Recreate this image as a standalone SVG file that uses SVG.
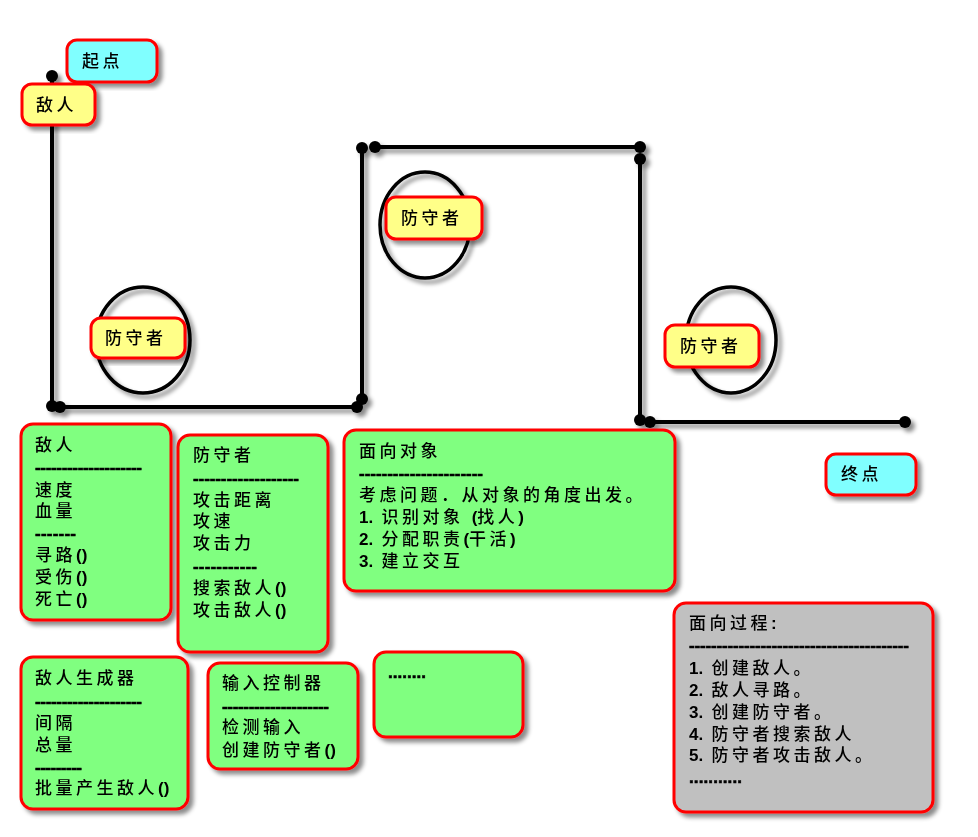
<svg xmlns="http://www.w3.org/2000/svg" width="978" height="837" viewBox="0 0 978 837">
<defs>
<filter id="sh" x="-20%" y="-20%" width="140%" height="140%">
<feDropShadow dx="4" dy="4" stdDeviation="2" flood-color="#000" flood-opacity="0.45"/>
</filter>
<style>
.ln{stroke:#000;stroke-width:4;fill:none;stroke-linecap:butt}
.dot{fill:#000}
.el{fill:none;stroke:#000;stroke-width:3.5}
.box{stroke:#ff0000;stroke-width:3}
.y{fill:#ffff88}
.c{fill:#80ffff}
.g{fill:#80ff80}
.gr{fill:#c0c0c0}
text{font-family:"Liberation Sans","Noto Sans CJK SC",sans-serif;font-size:17px;font-weight:500;fill:#000;letter-spacing:3.5px}
.b{font-weight:bold;letter-spacing:0}
.d{font-weight:bold;letter-spacing:0;stroke:#000;stroke-width:0.6}
</style>
</defs>
<rect width="978" height="837" fill="#fff"/>
<g id="connectors" filter="url(#sh)">
<line class="ln" x1="52" y1="76" x2="52" y2="406"/>
<circle class="dot" cx="52" cy="76" r="6"/><circle class="dot" cx="52" cy="406" r="6"/>
<line class="ln" x1="60" y1="407" x2="357" y2="407"/>
<circle class="dot" cx="60" cy="407" r="6"/><circle class="dot" cx="357" cy="407" r="6"/>
<line class="ln" x1="362" y1="148" x2="362" y2="399"/>
<circle class="dot" cx="362" cy="148" r="6"/><circle class="dot" cx="362" cy="399" r="6"/>
<line class="ln" x1="375" y1="147" x2="640" y2="147"/>
<circle class="dot" cx="375" cy="147" r="6"/><circle class="dot" cx="640" cy="147" r="6"/>
<line class="ln" x1="640" y1="159" x2="640" y2="420"/>
<circle class="dot" cx="640" cy="159" r="6"/><circle class="dot" cx="640" cy="420" r="6"/>
<line class="ln" x1="650" y1="422" x2="905" y2="422"/>
<circle class="dot" cx="650" cy="422" r="6"/><circle class="dot" cx="905" cy="422" r="6"/>
</g>
<g id="ellipses" filter="url(#sh)">
<ellipse class="el" cx="143" cy="340" rx="47" ry="53"/>
<ellipse class="el" cx="425" cy="225" rx="45" ry="53"/>
<ellipse class="el" cx="731" cy="340" rx="45" ry="53"/>
</g>
<g id="start" filter="url(#sh)"><rect class="box c" x="67" y="40" width="90" height="42" rx="10"/><text x="82" y="67">起点</text></g>
<g id="enemy-label" filter="url(#sh)"><rect class="box y" x="22" y="84" width="73" height="41" rx="10"/><text x="36" y="111">敌人</text></g>
<g id="defender1" filter="url(#sh)"><rect class="box y" x="91" y="318" width="94" height="40" rx="10"/><text x="105" y="344">防守者</text></g>
<g id="defender2" filter="url(#sh)"><rect class="box y" x="386" y="197" width="96" height="42" rx="10"/><text x="401" y="224">防守者</text></g>
<g id="defender3" filter="url(#sh)"><rect class="box y" x="665" y="325" width="94" height="42" rx="10"/><text x="680" y="352">防守者</text></g>
<g id="end" filter="url(#sh)"><rect class="box c" x="826" y="454" width="90" height="41" rx="10"/><text x="841" y="480">终点</text></g>
<g id="enemy-class" filter="url(#sh)"><rect class="box g" x="21" y="424" width="150" height="196" rx="12"/>
<text x="35" y="451">敌人</text>
<text x="35" y="473" class="d" textLength="107">--------------------</text>
<text x="35" y="496">速度</text>
<text x="35" y="517">血量</text>
<text x="35" y="539" class="d" textLength="41">-------</text>
<text x="35" y="561">寻路<tspan class="b">()</tspan></text>
<text x="35" y="583">受伤<tspan class="b">()</tspan></text>
<text x="35" y="605">死亡<tspan class="b">()</tspan></text>
</g>
<g id="defender-class" filter="url(#sh)"><rect class="box g" x="178" y="435" width="150" height="217" rx="12"/>
<text x="193" y="461">防守者</text>
<text x="193" y="484" class="d" textLength="106">-------------------</text>
<text x="193" y="506">攻击距离</text>
<text x="193" y="527">攻速</text>
<text x="193" y="549">攻击力</text>
<text x="193" y="572" class="d" textLength="64">-----------</text>
<text x="193" y="594">搜索敌人<tspan class="b">()</tspan></text>
<text x="193" y="616">攻击敌人<tspan class="b">()</tspan></text>
</g>
<g id="oo" filter="url(#sh)"><rect class="box g" x="344" y="430" width="331" height="161" rx="12"/>
<text x="359" y="457">面向对象</text>
<text x="359" y="479" class="d" textLength="124">----------------------</text>
<text x="359" y="501">考虑问题．从对象的角度出发。</text>
<text x="359" y="523"><tspan class="b">1.</tspan> 识别对象 <tspan class="b">(</tspan>找人<tspan class="b">)</tspan></text>
<text x="359" y="545"><tspan class="b">2.</tspan> 分配职责<tspan class="b">(</tspan>干活<tspan class="b">)</tspan></text>
<text x="359" y="567"><tspan class="b">3.</tspan> 建立交互</text>
</g>
<g id="process" filter="url(#sh)"><rect class="box gr" x="674" y="603" width="259" height="209" rx="12"/>
<text x="689" y="629">面向过程<tspan class="b">:</tspan></text>
<text x="689" y="651" class="d" textLength="220">----------------------------------------</text>
<text x="689" y="674"><tspan class="b">1.</tspan> 创建敌人。</text>
<text x="689" y="696"><tspan class="b">2.</tspan> 敌人寻路。</text>
<text x="689" y="718"><tspan class="b">3.</tspan> 创建防守者。</text>
<text x="689" y="740"><tspan class="b">4.</tspan> 防守者搜索敌人</text>
<text x="689" y="761"><tspan class="b">5.</tspan> 防守者攻击敌人。</text>
<text x="689" y="783" class="d" textLength="53">...........</text>
</g>
<g id="spawner" filter="url(#sh)"><rect class="box g" x="21" y="657" width="167" height="152" rx="12"/>
<text x="35" y="684">敌人生成器</text>
<text x="35" y="707" class="d" textLength="107">--------------------</text>
<text x="35" y="729">间隔</text>
<text x="35" y="751">总量</text>
<text x="35" y="773" class="d" textLength="47">---------</text>
<text x="35" y="794">批量产生敌人<tspan class="b">()</tspan></text>
</g>
<g id="input" filter="url(#sh)"><rect class="box g" x="208" y="663" width="150" height="106" rx="12"/>
<text x="222" y="689">输入控制器</text>
<text x="222" y="712" class="d" textLength="107">--------------------</text>
<text x="222" y="733">检测输入</text>
<text x="222" y="756">创建防守者<tspan class="b">()</tspan></text>
</g>
<g id="more" filter="url(#sh)"><rect class="box g" x="374" y="652" width="149" height="85" rx="12"/>
<text x="388" y="678" class="d" textLength="38">........</text>
</g>
</svg>
